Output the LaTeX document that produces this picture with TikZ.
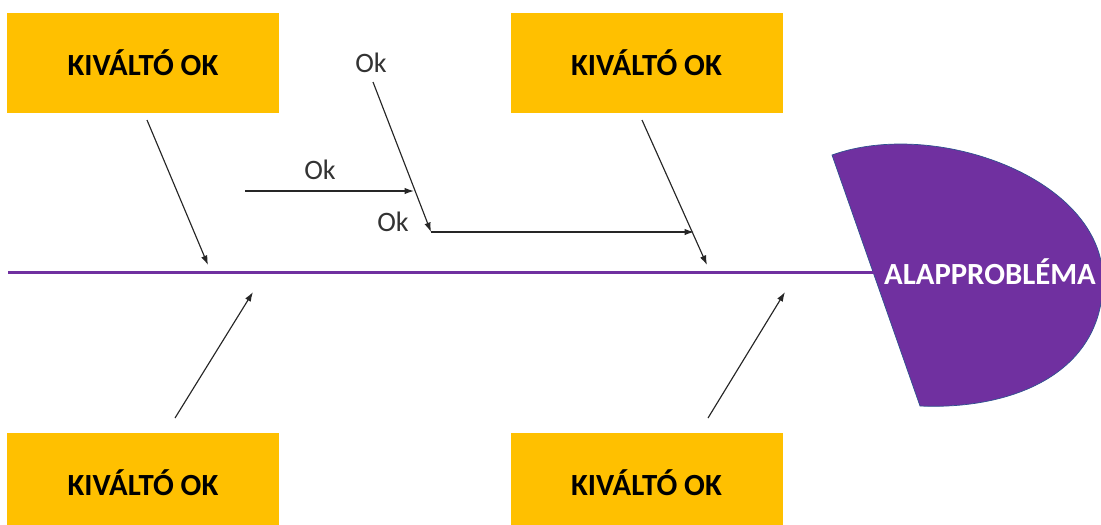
\documentclass[tikz,border=0pt]{standalone}
\usepackage{fontspec}
\setmainfont{Carlito}
\usepackage{xcolor}
\usetikzlibrary{arrows.meta,positioning}
\definecolor{okgold}{HTML}{FFC000}
\definecolor{headpurple}{HTML}{7030A0}
\definecolor{headedge}{HTML}{2F528F}
\tikzset{
	cause/.style={fill=okgold, minimum width=54.4mm, minimum height=20mm, inner sep=0mm, font=\fontsize{17.5}{20}\selectfont\bfseries},
	bone/.style={-{Latex[length=1.9mm,width=1.3mm]}, line width=0.65pt, draw=black!85},
	oklabel/.style={font=\fontsize{16}{18}\selectfont, inner sep=0mm, text=black!80},
	spine/.style={draw=headpurple, line width=0.6mm}
}

\begin{document}
\begin{tikzpicture}[x=0.2mm, y=-0.2mm]
			\clip (0,0) rectangle (1101,524);
			\useasboundingbox (0,0) rectangle (1101,524);
			
			% Cause boxes are placed.
			\node[cause] (cause-tl) at (143,63) {KIVÁLTÓ OK};
			\node[cause] (cause-tr) at (646.5,63) {KIVÁLTÓ OK};
			\node[cause] (cause-bl) at (143,483) {KIVÁLTÓ OK};
			\node[cause] (cause-br) at (646.5,483) {KIVÁLTÓ OK};
			
			% Head of the fish is drawn.
			\draw[fill=headpurple, draw=headedge, line width=0.4pt] (832,155) .. controls (935,118) and (1103,178) .. (1103,280)
				.. controls (1103,375) and (1010,410) .. (920,406) -- cycle;
			\coordinate (head-w) at (880,272);
			\node[font=\fontsize{17.5}{20}\selectfont\bfseries, text=white, inner sep=0mm] (problem) at (990,272) {ALAPPROBLÉMA};
			
			% Spine is drawn.
			\coordinate (spine-w) at (8,272);
			\draw[spine] (spine-w) -- (head-w);
			
			% Bones are drawn.
			\coordinate (tl-s) at (147,120); \coordinate (tl-e) at (208,265);
			\coordinate (bl-s) at (175,418); \coordinate (bl-e) at (253,292);
			\coordinate (tr-s) at (642,120); \coordinate (tr-e) at (707,265);
			\coordinate (br-s) at (708,418); \coordinate (br-e) at (785,292);
			\draw[bone] (tl-s) -- (tl-e);
			\draw[bone] (bl-s) -- (bl-e);
			\draw[bone] (tr-s) -- (tr-e);
			\draw[bone] (br-s) -- (br-e);
			
			% Sub-cause bones are drawn.
			\node[oklabel] (ok-top) at (371,63) {Ok};
			\node[oklabel] (ok-mid) at (320,170) {Ok};
			\node[oklabel] (ok-low) at (393,222) {Ok};
			\coordinate (sub-s) at (373,82); \coordinate (sub-e) at (431,232);
			\coordinate (mid-s) at (245,191); \coordinate (mid-e) at (414,191);
			\coordinate (join-e) at (694,232);
			\draw[bone] (sub-s) -- (sub-e);
			\draw[bone] (mid-s) -- (mid-e);
			\draw[bone] (sub-e) -- (join-e);
			
		\end{tikzpicture}
\end{document}
